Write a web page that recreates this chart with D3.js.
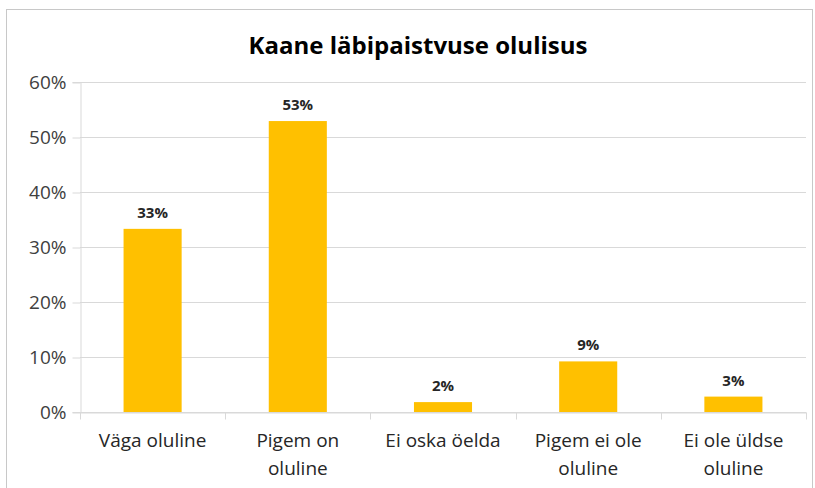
<!DOCTYPE html>
<html><head><meta charset="utf-8">
<script src="https://cdn.jsdelivr.net/npm/d3@7"></script>
<style>body{margin:0;background:#fff}svg{display:block}</style>
</head><body>
<svg id="c" width="815" height="488"></svg>
<script>
const title = "Kaane läbipaistvuse olulisus";
const categories = ["Väga oluline", "Pigem on oluline", "Ei oska öelda", "Pigem ei ole oluline", "Ei ole üldse oluline"];
const values = [0.333, 0.529, 0.018, 0.092, 0.028];
const valueLabels = ["33%", "53%", "2%", "9%", "3%"];
const yTicks = [0, 0.1, 0.2, 0.3, 0.4, 0.5, 0.6];

const svg = d3.select("#c");
const font = "'Open Sans', Lato, sans-serif";
const m = {left: 80, right: 806, top: 82, bottom: 412};

svg.append("rect").attr("x", 6.5).attr("y", 9.5).attr("width", 806).attr("height", 490)
  .attr("fill", "#fff").attr("stroke", "#c8c8c8");

svg.append("text").attr("x", 418).attr("y", 54).attr("text-anchor", "middle")
  .attr("font-family", font).attr("font-weight", "bold").attr("font-size", 24)
  .attr("fill", "#000").text(title);

const x = d3.scaleBand().domain(categories).range([m.left, m.right]).paddingInner(0.6).paddingOuter(0.3);
const xb = d3.scaleBand().domain(categories).range([m.left, m.right]);
const y = d3.scaleLinear().domain([0, 0.6]).range([m.bottom, m.top]);

// gridlines
svg.append("g").selectAll("line").data(yTicks).join("line")
  .attr("x1", m.left).attr("x2", m.right)
  .attr("y1", d => Math.round(y(d)) + 0.5).attr("y2", d => Math.round(y(d)) + 0.5)
  .attr("stroke", "#d9d9d9");

// y axis
const yAxis = svg.append("g").attr("transform", `translate(${m.left + 0.5},0)`)
  .call(d3.axisLeft(y).tickValues(yTicks).tickFormat(d3.format(".0%")).tickSize(8).tickPadding(6));
yAxis.select(".domain").attr("stroke", "#d9d9d9");
yAxis.selectAll(".tick line").attr("stroke", "#d9d9d9").attr("transform", "translate(0,0.5)");
yAxis.selectAll("text").attr("font-family", font).attr("font-size", 19).attr("fill", "#404040");

// bars
svg.append("g").selectAll("rect").data(values).join("rect")
  .attr("x", (d, i) => x(categories[i])).attr("width", x.bandwidth())
  .attr("y", d => y(d)).attr("height", d => y(0) - y(d))
  .attr("fill", "#FFC000");

// x axis
const xAxis = svg.append("g").attr("transform", `translate(0,${Math.round(y(0)) + 0.5})`)
  .call(d3.axisBottom(xb).tickSize(0).tickPadding(21));
xAxis.select(".domain").attr("stroke", "#d9d9d9");
xAxis.selectAll("text").attr("font-family", font).attr("font-size", 19).attr("fill", "#262626");
// boundary ticks
const bounds = categories.map(c => xb(c)).concat([m.right]);
xAxis.append("g").selectAll("line").data(bounds).join("line")
  .attr("x1", d => Math.round(d) + 0.5).attr("x2", d => Math.round(d) + 0.5)
  .attr("y1", 0).attr("y2", 7).attr("stroke", "#d9d9d9");

// wrap
xAxis.selectAll(".tick text").each(function() {
  const t = d3.select(this);
  const words = t.text().split(" ");
  const dy = parseFloat(t.attr("dy")) || 0;
  const yy = t.attr("y");
  t.text(null);
  let line = [], lineNo = 0;
  let ts = t.append("tspan").attr("x", 0).attr("y", yy).attr("dy", dy + "em");
  for (const w of words) {
    line.push(w);
    ts.text(line.join(" "));
    if (ts.node().getComputedTextLength() > 136 && line.length > 1) {
      line.pop(); ts.text(line.join(" "));
      line = [w]; lineNo++;
      ts = t.append("tspan").attr("x", 0).attr("y", yy).attr("dy", (dy + lineNo * 1.5) + "em").text(w);
    }
  }
});

// data labels
svg.append("g").selectAll("text").data(values).join("text")
  .attr("x", (d, i) => x(categories[i]) + x.bandwidth() / 2)
  .attr("y", d => y(d) - 11)
  .attr("text-anchor", "middle").attr("font-family", font).attr("font-weight", "bold")
  .attr("font-size", 15).attr("fill", "#262626")
  .text((d, i) => valueLabels[i]);
</script>
</body></html>
